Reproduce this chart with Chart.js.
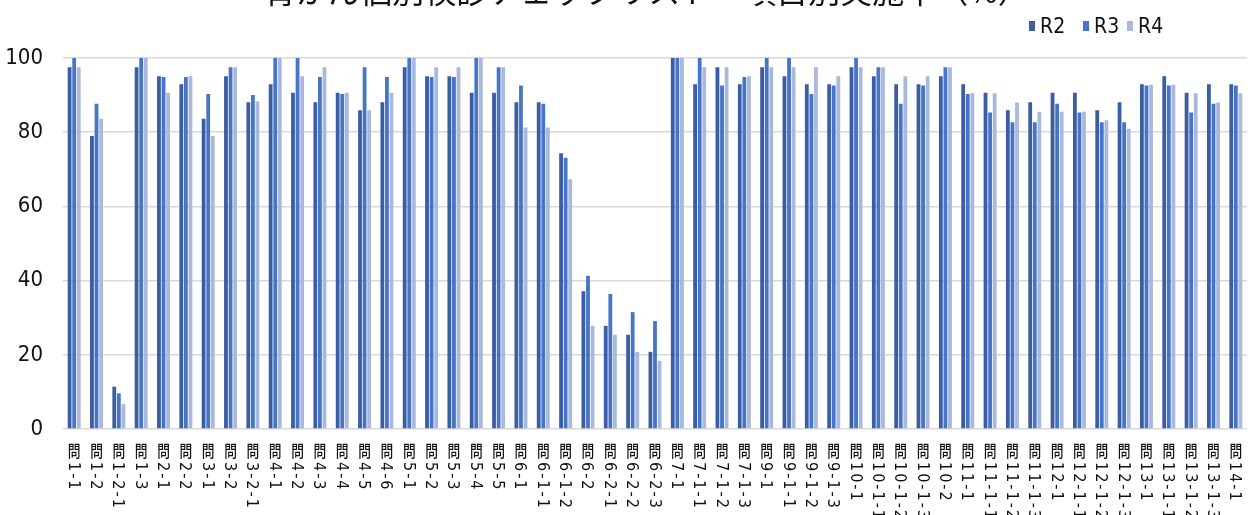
<!DOCTYPE html>
<html lang="ja">
<head>
<meta charset="UTF-8">
<title>項目別実施率</title>
<script src="https://cdn.jsdelivr.net/npm/chart.js"></script>
<style>
    body { margin: 0; background: #fff; overflow: hidden; }
    .wrap { position: relative; width: 1250px; height: 515px; }
    .title {
        position: absolute; left: 0; width: 1294px; top: -29px;
        text-align: center; font: 32px/36px "Noto Sans CJK JP", sans-serif; color: #111;
    }
    .legend {
        position: absolute; top: 16px; left: 1029px; height: 20px;
        font: 21px/20px "Liberation Sans Narrow", "DejaVu Sans Condensed", "Roboto Condensed", "Liberation Sans", sans-serif;
        color: #111;
    }
    .legend span { position: absolute; white-space: nowrap; }
    .legend i { position: absolute; top: 5px; width: 6px; height: 10px; }
    canvas { position: absolute; left: 0; top: 0; }
</style>
</head>
<body>
<div class="wrap">
    <canvas id="chart" width="1250" height="515"></canvas>
    <div class="title">胃がん個別検診チェックリスト　項目別実施率（%）</div>
    <div class="legend" id="legend"></div>
</div>
<script>
// categories
const labels = ['問1-1','問1-2','問1-2-1','問1-3','問2-1','問2-2','問3-1','問3-2','問3-2-1',
    '問4-1','問4-2','問4-3','問4-4','問4-5','問4-6','問5-1','問5-2','問5-3','問5-4','問5-5',
    '問6-1','問6-1-1','問6-1-2','問6-2','問6-2-1','問6-2-2','問6-2-3',
    '問7-1','問7-1-1','問7-1-2','問7-1-3','問9-1','問9-1-1','問9-1-2','問9-1-3',
    '問10-1','問10-1-1','問10-1-2','問10-1-3','問10-2',
    '問11-1','問11-1-1','問11-1-2','問11-1-3','問12-1','問12-1-1','問12-1-2','問12-1-3',
    '問13-1','問13-1-1','問13-1-2','問13-1-3','問14-1'];

// series (%)
const r2 = [97.5,79.0,11.4,97.5,95.1,92.9,83.6,95.1,88.1,
    92.9,90.6,88.1,90.6,85.9,88.1,97.5,95.1,95.1,90.6,90.6,
    88.1,88.1,74.3,37.1,27.8,25.4,20.8,
    100,92.9,97.5,92.9,97.5,95.1,92.9,92.9,
    97.5,95.1,92.9,92.9,95.1,
    92.9,90.6,85.9,88.1,90.6,90.6,85.9,88.1,
    92.9,95.1,90.6,92.9,92.9];
const r3 = [100,87.7,9.6,100,94.9,94.9,90.3,97.5,90.0,
    100,100,94.9,90.3,97.5,94.9,100,94.9,94.9,100,97.5,
    92.6,87.7,73.1,41.3,36.4,31.5,29.1,
    100,100,92.6,94.9,100,100,90.3,92.6,
    100,97.5,87.7,92.6,97.5,
    90.3,85.3,82.7,82.7,87.7,85.3,82.7,82.7,
    92.6,92.6,85.3,87.7,92.6];
const r4 = [97.5,83.6,6.7,100,90.6,95.1,79.0,97.5,88.3,
    100,95.1,97.5,90.6,85.9,90.6,100,97.5,97.5,100,97.5,
    81.3,81.3,67.3,27.8,25.4,20.8,18.4,
    100,97.5,97.5,95.1,97.5,97.5,97.5,95.1,
    97.5,97.5,95.1,95.1,97.5,
    90.5,90.5,88.0,85.5,85.5,85.5,83.2,80.9,
    92.8,92.8,90.5,88.0,90.5];

const seriesNames = ['R2', 'R3', 'R4'];
const colors = ['#3A5DA4', '#4674C8', '#A9B8DC'];
const yTicks = [0, 20, 40, 60, 80, 100];

const narrowFont = '"Liberation Sans Narrow", "DejaVu Sans Condensed", "Roboto Condensed", "Liberation Sans", sans-serif';

// html legend
const legendEl = document.getElementById('legend');
const legendX = [0, 54, 98];
seriesNames.forEach((name, i) => {
    legendEl.insertAdjacentHTML('beforeend',
        `<i style="left:${legendX[i]}px;background:${colors[i]}"></i>` +
        `<span style="left:${legendX[i] + 11}px">${name}</span>`);
});

// vertical (tategaki style) category labels
const verticalLabels = {
    id: 'verticalLabels',
    afterDraw(chart) {
        const ctx = chart.ctx;
        const xs = chart.scales.x;
        ctx.save();
        ctx.fillStyle = '#111';
        labels.forEach((lab, i) => {
            const x = xs.getPixelForTick(i);
            ctx.save();
            ctx.translate(x, 457);
            ctx.scale(0.85, 1.05);
            ctx.font = '500 15px "Noto Sans CJK JP"';
            ctx.textAlign = 'center';
            ctx.textBaseline = 'alphabetic';
            ctx.fillText(lab[0], 0, 0);
            ctx.restore();

            ctx.save();
            ctx.translate(x, 462);
            ctx.rotate(Math.PI / 2);
            ctx.font = '16px ' + narrowFont;
            ctx.letterSpacing = '2px';
            ctx.textAlign = 'left';
            ctx.textBaseline = 'alphabetic';
            ctx.fillText(lab.slice(1), 0, 5.5);
            ctx.restore();
        });
        ctx.restore();
    }
};

new Chart(document.getElementById('chart'), {
    type: 'bar',
    data: {
        labels: labels,
        datasets: [r2, r3, r4].map((d, i) => ({
            label: seriesNames[i],
            data: d,
            backgroundColor: colors[i],
            categoryPercentage: 0.615,
            barPercentage: 0.83
        }))
    },
    options: {
        responsive: false,
        devicePixelRatio: 1,
        animation: false,
        layout: { padding: { top: 58, right: 3, left: 0, bottom: 0 } },
        plugins: {
            legend: { display: false },
            title: { display: false },
            tooltip: { enabled: false }
        },
        scales: {
            x: {
                ticks: { display: false },
                grid: { display: false },
                border: { display: false },
                afterFit(scale) { scale.height = 86; }
            },
            y: {
                min: 0,
                max: 100,
                afterBuildTicks(scale) { scale.ticks = yTicks.map(v => ({ value: v })); },
                ticks: {
                    padding: 20,
                    color: '#111',
                    font: { family: narrowFont, size: 22 }
                },
                grid: { color: '#d9d9d9', lineWidth: 1.5, drawTicks: false },
                border: { display: false },
                afterFit(scale) { scale.width = 63; }
            }
        }
    },
    plugins: [verticalLabels]
});
</script>
</body>
</html>
